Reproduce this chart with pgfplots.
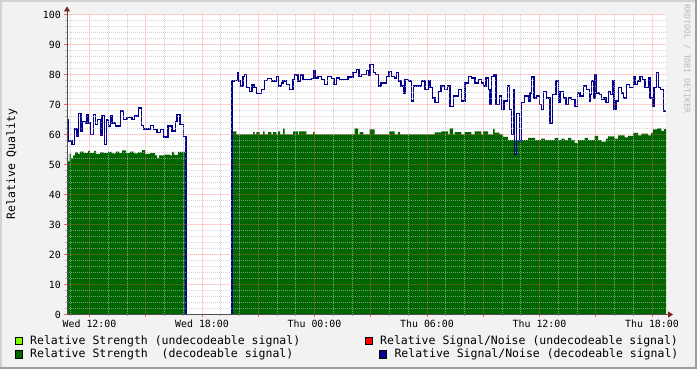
\documentclass[border=0pt]{standalone}
\usepackage{pgfplots}
\pgfplotsset{compat=1.18}
\usepackage{pgfplotstable}
\usepackage{fontspec}
\setmonofont{DejaVu Sans Mono}
\usetikzlibrary{arrows.meta}

\definecolor{bgcol}{RGB}{242,242,242}
\definecolor{shadeA}{RGB}{210,210,210}
\definecolor{shadeB}{RGB}{158,158,158}
\definecolor{dgreen}{RGB}{0,102,0}
\definecolor{navy}{RGB}{0,0,145}
\definecolor{lgreen}{RGB}{128,255,0}
\definecolor{lred}{RGB}{255,0,0}
\definecolor{mgridc}{RGB}{255,95,95}
\definecolor{gridc}{RGB}{186,186,186}
\definecolor{axisc}{RGB}{79,79,79}
\definecolor{arrowc}{RGB}{127,31,31}
\definecolor{wmc}{RGB}{185,185,185}

\newcommand{\tickfont}{\ttfamily\fontsize{9.9bp}{11bp}\selectfont}
\newcommand{\legfont}{\ttfamily\fontsize{11.5bp}{13bp}\selectfont}
\newcommand{\wmfont}{\ttfamily\fontsize{8.2bp}{9bp}\selectfont}

% x values are positions along the time axis (Wed 12:00 = 89.5, 6 h = 112.5)
\pgfplotstableread{
x y
67 53.5
68 51
69.5 53.5
71 52
73 53
75 54
78 53.5
80 54.3
84 53.8
88 54.5
90 53.8
94 54.5
96 53.5
100 54
104 53.8
108 54.2
112 53.7
116 54.3
119 53.8
122 54.7
126 53.8
130 54.3
134 53.7
138 54
142 54.8
145 53.5
150 53.8
155 53
157 52.2
159 53
164 53.3
170 53
172 54.2
174 53.2
178 54.2
186 0
232 61
236.3 60
253 60.8
254.7 60
256.3 60.8
259.7 60
263 61
264.7 60
268 60.8
271.3 60
273 60.8
276.3 60
278 61
280 60
283 62
284.7 60
293 61
298 60
299 61
306.3 60
313 60.8
314.7 60
354.7 62
358 60
359.7 60.8
363.3 60
369.7 61.7
374.7 60
389 61
394.7 60
398 60.9
400 60
434.7 60.7
441.3 61
448 60
449.7 62
453 60
454.7 60.8
461.3 60
464.7 60.8
471.3 60
474.7 61
481.3 60
483 61
488 60
493 61.9
494.7 60.6
499.7 60
503 59.2
508 58.1
528 58.9
535 58.1
541 58.6
545 58.1
554.7 58.9
558 58.1
561.3 58.6
564.7 58.1
568 58.9
571.3 58.1
574.7 57.2
578 58.1
584.7 58.9
588 58.1
594.7 59.5
598 58.1
601.3 57.6
606 58.6
608 59.4
614.7 58.6
618 59.7
624.7 59
628 59.5
633 60.5
638 59.7
641.3 60.3
648 59.7
651 60.5
653 61.7
657 62
661.3 61.2
664 61.8
666 61.8
}\strength

\pgfplotstableread{
x y
67 65
68 57.8
72 56.7
74.7 61.9
77 59.4
78.7 67
81 61.1
82.7 64.4
85.3 63.7
87 66.7
88.7 63.9
90.3 60
93.7 66.7
95.3 63.3
97.7 65
100.3 59.7
102 66.3
104.3 56.7
106.3 64.8
108.7 62.8
110.3 66.1
112 63.9
115.3 62.8
120.3 67.8
123.7 65
127 65.6
132 65
134.7 66.1
138.7 68.9
141.3 63
143.7 61.9
150.3 63
153.7 61.7
157 60.6
160.3 61.7
163.7 59.2
168 62.8
172 61.1
175.3 64.4
177 66.7
180 63.3
183.3 59.4
186 0
232 77.8
234.7 78
237.3 80.6
238.7 77.8
240.7 76.1
243 79.4
244.7 80
246.3 75.6
249.7 74.4
252 76.7
254 75.6
256.3 73.6
261.3 75
264.7 78
267.3 78.7
271.3 77.8
276.3 79.4
278.7 76.1
281.3 77.2
283 77.8
286.3 76.7
289.7 75
293 78.3
294.7 79.8
298 77.8
300.7 79.8
303 78.3
311.3 78.7
314 81.3
315.3 78.9
318 79.4
321.3 78.3
324.7 76.7
327.3 79.4
331.3 78.7
334 76.7
336.3 78.9
339.7 78.3
348 79.1
353 80.6
355 80.6
356.7 81.7
359 79.4
361.7 80
366.7 81.3
368.3 79.8
370 83.3
373.3 80.6
375.7 80
378.3 76.1
381 77.2
386.7 79.4
389 81
391.7 79.4
394.3 78.9
396.7 80.6
398.3 77.8
401 76.1
403.3 73.6
405 78.3
408.3 77.8
411.7 71.1
413.3 76.1
421.7 77.8
425 75
428.3 77.8
430 75.6
432.3 72.2
435 70.6
438.3 74.4
441 76.1
444.3 75
447.7 76.1
450 69.4
453.3 72.8
458.3 75
461.7 71.1
465 77.2
468.3 79.4
471.7 78.9
475 77.2
478.3 78.3
481.7 77.2
483.3 76.1
486 78.9
488.3 75
490 70
491.7 79.4
494 80
496 70
499.3 72.8
501.7 68.3
504 71.1
507.3 76.1
509.3 68.3
511.7 60
513.3 75
514.3 53.3
516.7 67
519.3 57.8
521.7 70.6
524.3 72.8
528.3 71.1
530 73.9
531.7 79.1
534 72.2
536.7 72.8
539.3 70
541.7 68.3
543.3 74.4
546.7 72.2
550 63.9
552.7 73.3
556 77.8
558.3 70.6
560 74.4
563.3 72.2
566 70
568.3 72.2
571.7 71.7
575 69.4
577.3 73.9
580 72.8
583.3 76.1
586.7 75
589.3 71.1
590 73.3
591.7 77.8
593.3 72.2
595 80
596.7 73.9
599.3 73.3
601.7 71.7
604 72.2
606 70.6
608.3 74.4
610.7 73.3
612.7 77.8
614 68.3
616 71.1
618.3 75.6
621.7 73.9
623.3 72.2
626.7 76.7
629.3 75.6
633.3 79.4
635 76.7
637.3 77.8
640 79.4
642.7 78.3
645 75.6
648.3 78.9
650 72.2
652.7 69.4
654 75.6
656.7 80.6
658.3 75.6
660.7 75
663.3 67.8
666 67.8
}\snr

\begin{document}
\begin{tikzpicture}
\fill[bgcol] (0,0) rectangle (697bp,369bp);
\useasboundingbox (0,0) rectangle (697bp,369bp);
\fill[shadeA] (0,367bp) rectangle (697bp,369bp);
\fill[shadeA] (0,0) rectangle (2bp,369bp);
\fill[shadeB] (0,0) rectangle (697bp,2bp);
\fill[shadeB] (695bp,0) rectangle (697bp,369bp);

\begin{axis}[
  at={(67bp,54.5bp)}, anchor=south west,
  scale only axis, width=599bp, height=300bp,
  xmin=67, xmax=666, ymin=0, ymax=100,
  axis background/.style={fill=white},
  axis lines=left,
  x axis line style={color=axisc, line width=0.8bp, -{Triangle[length=5bp,width=6bp,color=arrowc]}, shorten >=-7bp},
  y axis line style={color=axisc, line width=0.8bp, -{Triangle[length=5bp,width=6bp,color=arrowc]}, shorten >=-8bp},
  tick align=outside,
  major tick length=3bp, minor tick length=2bp,
  major tick style={color=mgridc, line width=0.8bp},
  minor tick style={color=gridc, line width=0.8bp},
  xtick={89.5,145.75,202,258.25,314.5,370.75,427,483.25,539.5,595.75,652},
  xticklabels={Wed 12:00,,Wed 18:00,,Thu 00:00,,Thu 06:00,,Thu 12:00,,Thu 18:00},
  minor xtick={70.75,108.25,127,164.5,183.25,220.75,239.5,277,295.75,333.25,352,389.5,408.25,445.75,464.5,502,520.75,558.25,577,614.5,633.25},
  ytick={0,10,...,100},
  minor y tick num=4,
  grid=both,
  major grid style={color=mgridc, opacity=0.3, solid, line width=0.9bp},
  minor grid style={color=gridc, opacity=0.65, dash pattern=on 1bp off 1bp, line width=0.7bp},
  axis on top,
  clip=false,
  /pgf/number format/assume math mode=true,
  tick label style={font=\tickfont, text=black},
  yticklabel style={inner sep=0pt, xshift=-3bp},
  xticklabel style={inner sep=0pt, yshift=-2.5bp},
]
\addplot[fill=dgreen, draw=none, const plot] table[x=x,y=y] {\strength} \closedcycle;
\addplot[color=navy, line width=1.5bp, const plot] table[x=x,y=y] {\snr};
\end{axis}

\node[rotate=90, font=\legfont] at (12bp,205bp) {Relative Quality};
\node[rotate=-90, font=\wmfont, text=wmc] at (687bp,310bp) {RRDTOOL / TOBI OETIKER};

\draw[fill=lgreen, line width=0.7bp] (15.3bp,24.3bp) rectangle (22bp,32bp);
\draw[fill=dgreen, line width=0.7bp] (15.3bp,11bp) rectangle (22bp,18.7bp);
\draw[fill=lred, line width=0.7bp] (365.5bp,24.3bp) rectangle (372.5bp,32bp);
\draw[fill=navy, line width=0.7bp] (379.5bp,11bp) rectangle (386.5bp,18.7bp);

\node[anchor=base west, inner sep=0pt, font=\legfont] at (30bp,24.5bp) {Relative Strength (undecodeable signal)};
\node[anchor=base west, inner sep=0pt, font=\legfont] at (30bp,11.3bp) {Relative Strength\ \ (decodeable signal)};
\node[anchor=base west, inner sep=0pt, font=\legfont] at (380bp,24.5bp) {Relative Signal/Noise (undecodeable signal)};
\node[anchor=base west, inner sep=0pt, font=\legfont] at (394.3bp,11.3bp) {Relative Signal/Noise (decodeable signal)};
\end{tikzpicture}
\end{document}
